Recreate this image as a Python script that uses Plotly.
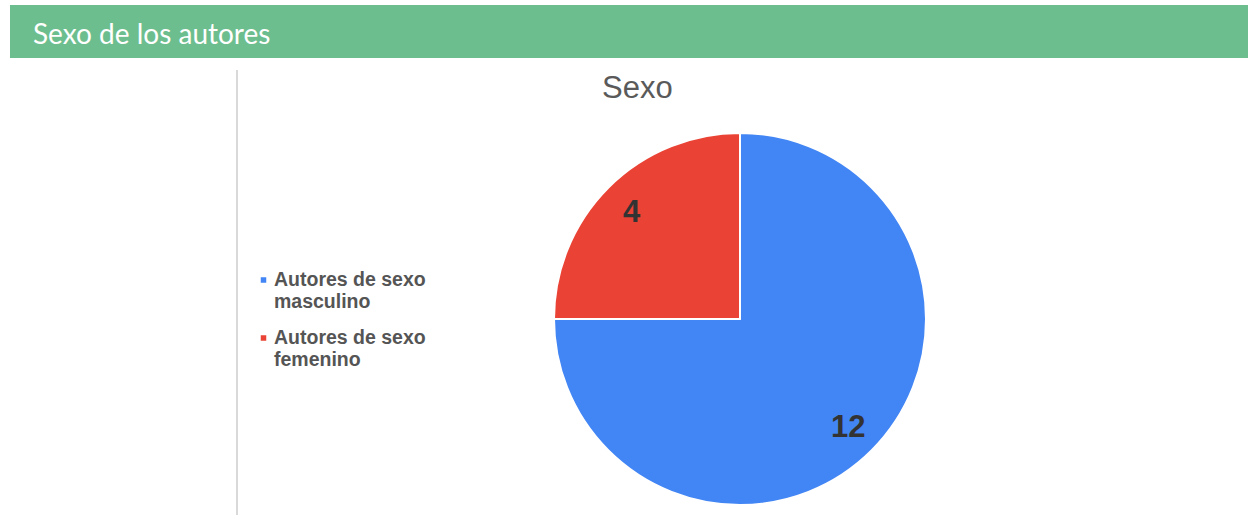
import math
import plotly.graph_objects as go

W, H = 1248, 520

categories = ["Autores de sexo<br>masculino", "Autores de sexo<br>femenino"]
values = [12, 4]
colors = ["#4285f4", "#ea4335"]
header_text = "Sexo de los autores"
chart_title = "Sexo"

def px_x(x):
    return x / W

def px_y(y):
    return (H - y) / H

# pie placement (pixels)
PIE_L, PIE_R, PIE_T, PIE_B = 554, 926, 133, 505
cx, cy = (PIE_L + PIE_R) / 2, (PIE_T + PIE_B) / 2
R = (PIE_R - PIE_L) / 2
LABEL_R = 0.82

fig = go.Figure()
fig.add_trace(go.Pie(
    labels=categories,
    values=values,
    sort=False,
    direction="clockwise",
    rotation=0,
    marker=dict(colors=colors, line=dict(color="white", width=2)),
    textinfo="none",
    domain=dict(x=[px_x(PIE_L), px_x(PIE_R)], y=[px_y(PIE_B), px_y(PIE_T)]),
    hoverinfo="label+value",
    showlegend=False,
))

annotations = []
shapes = []

# value labels placed at slice mid-angles computed from the data
total = sum(values)
cum = 0
for v in values:
    mid = (cum + v / 2) / total * 2 * math.pi
    cum += v
    lx = cx + LABEL_R * R * math.sin(mid)
    ly = cy - LABEL_R * R * math.cos(mid)
    annotations.append(dict(
        text=str(v), xref="paper", yref="paper",
        x=px_x(lx), y=px_y(ly), xanchor="center", yanchor="middle",
        showarrow=False,
        font=dict(family="Liberation Sans, Arial", size=31, color="#333333", weight="bold"),
    ))

# legend (marker square + wrapped label lines)
LEG_X, LEG_Y0, LEG_ITEM, LEG_LINE, SQ = 263.5, 279, 58, 21.5, 5.5
for i, (lab, col) in enumerate(zip(categories, colors)):
    y0 = LEG_Y0 + i * LEG_ITEM
    shapes.append(dict(type="rect", xref="paper", yref="paper",
                       x0=px_x(LEG_X - SQ / 2), x1=px_x(LEG_X + SQ / 2),
                       y0=px_y(y0 + 1 + SQ / 2), y1=px_y(y0 + 1 - SQ / 2),
                       fillcolor=col, line=dict(width=0)))
    for j, line in enumerate(lab.split("<br>")):
        annotations.append(dict(
            text=line, xref="paper", yref="paper",
            x=px_x(272), y=px_y(y0 + j * LEG_LINE), xanchor="left", yanchor="middle",
            showarrow=False,
            font=dict(family="Liberation Sans, Arial", size=19.5, color="#555555", weight="bold"),
        ))

annotations += [
    dict(text=header_text, xref="paper", yref="paper",
         x=px_x(31), y=px_y(33), xanchor="left", yanchor="middle",
         showarrow=False,
         font=dict(family="Lato", size=28, color="white")),
    dict(text=chart_title, xref="paper", yref="paper",
         x=px_x(637), y=px_y(88), xanchor="center", yanchor="middle",
         showarrow=False,
         font=dict(family="Liberation Sans, Arial", size=31, color="#5a5a5a")),
]

shapes += [
    dict(type="rect", xref="paper", yref="paper",
         x0=px_x(10), x1=1, y0=px_y(58), y1=px_y(5),
         fillcolor="#6dbe8e", line=dict(width=0), layer="below"),
    dict(type="line", xref="paper", yref="paper",
         x0=px_x(237), x1=px_x(237), y0=px_y(515), y1=px_y(70),
         line=dict(color="#cccccc", width=1.5)),
]

fig.update_layout(
    width=W, height=H,
    margin=dict(l=0, r=0, t=0, b=0),
    paper_bgcolor="white",
    plot_bgcolor="white",
    showlegend=False,
    shapes=shapes,
    annotations=annotations,
)

fig.write_html("out.html",
               config={"displayModeBar": False},
               post_script="document.body.style.margin='0';document.body.style.padding='0';")
